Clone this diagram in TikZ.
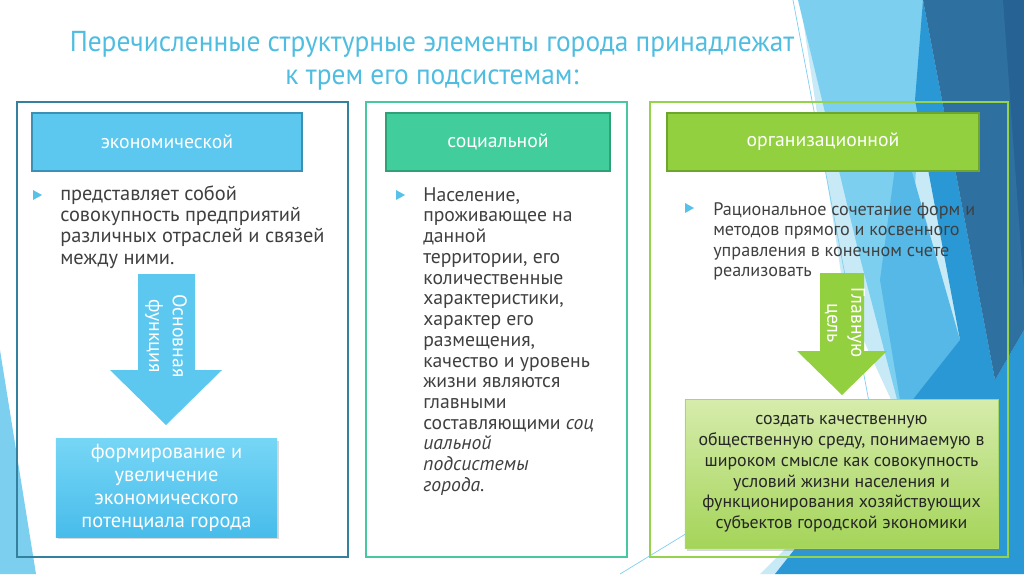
\documentclass[tikz,border=0pt]{standalone}
\usepackage{fontspec}
\setmainfont{PT Sans}
\newfontfamily\titlefont[FakeStretch=0.95]{PT Sans}
\usepackage{tikz}
\usepackage{color}
\usetikzlibrary{shadows}

\definecolor{titleblue}{RGB}{79,189,224}
\definecolor{bodygray}{RGB}{64,64,64}
\definecolor{bulletblue}{RGB}{86,194,234}
\definecolor{econfill}{RGB}{92,200,240}
\definecolor{econline}{RGB}{58,145,180}
\definecolor{econframe}{RGB}{52,128,158}
\definecolor{econtop}{RGB}{118,214,246}
\definecolor{econbot}{RGB}{72,188,234}
\definecolor{socfill}{RGB}{66,206,156}
\definecolor{socline}{RGB}{48,160,118}
\definecolor{socframe}{RGB}{72,200,160}
\definecolor{orgfill}{RGB}{146,208,64}
\definecolor{orgline}{RGB}{110,165,45}
\definecolor{orgframe}{RGB}{150,210,75}
\definecolor{orgtop}{RGB}{214,236,172}
\definecolor{orgbot}{RGB}{164,212,88}
\definecolor{bgpale}{RGB}{200,234,247}
\definecolor{bglight}{RGB}{125,207,240}
\definecolor{bgmid}{RGB}{85,184,230}
\definecolor{bgblue}{RGB}{42,152,212}
\definecolor{bgdark}{RGB}{46,112,160}
\definecolor{bgdarker}{RGB}{38,98,148}

\begin{document}
\begin{tikzpicture}[x=0.025cm,y=-0.025cm,
  frame/.style={draw,line width=1pt,minimum height=11.375cm},
  headbox/.style={draw,line width=0.8pt,minimum height=1.45cm,text=white,font=\fontsize{14}{16}\selectfont},
  bullettext/.style={anchor=north west,inner sep=0pt,align=left,text=bodygray},
  arrowtext/.style={rotate=-90,text=white,align=center,inner sep=0pt,font=\fontsize{14}{17}\selectfont},
  resultbox/.style={align=center,drop shadow={opacity=0.3,shadow xshift=1.5pt,shadow yshift=-1.5pt}}]
\useasboundingbox (0,0) rectangle (1024,574);

% background facets
\fill[bgpale] (800,0)--(1024,0)--(1024,574)--(760,574)--(905,430)--(845,300)--cycle;
\fill[bglight] (798,0)--(923,0)--(905,430)--(858,250)--cycle;
\fill[bgmid] (900,130)--(960,340)--(905,430)--(880,280)--cycle;
\fill[bgblue] (923,0)--(995,380)--(1024,330)--(1024,574)--(775,574)--(960,340)--(915,100)--cycle;
\fill[bgdark] (923,0)--(1024,0)--(1024,330)--(995,380)--cycle;
\fill[bgdarker] (1003,0)--(1024,0)--(1024,290)--cycle;
\draw[bglight,line width=0.5pt] (793,0)--(880,460);
\draw[bglight,line width=0.5pt] (620,574)--(905,400);
\fill[bglight] (0,350)--(36,574)--(0,574)--cycle;

\node[text=titleblue,align=center,font=\titlefont\fontsize{20.5}{23.5}\selectfont] (title) at (432,61)
  {Перечисленные структурные элементы города принадлежат\\к трем его подсистемам:};

\node[frame,draw=econframe,minimum width=8.275cm] (econframe) at (182.5,329.5) {};
\node[frame,draw=socframe,minimum width=6.525cm] (socframe) at (496.5,329.5) {};
\node[frame,draw=orgframe,minimum width=8.95cm] (orgframe) at (829,329.5) {};

\node[headbox,fill=econfill,draw=econline,minimum width=6.75cm] (econ) at (167,142) {экономической};
\node[headbox,fill=socfill,draw=socline,minimum width=5.6cm] (soc) at (498,142) {социальной};
\node[headbox,fill=orgfill,draw=orgline,minimum width=7.8cm] (org) at (823,142) {организационной};

\fill[bulletblue] (33,190)--(42,195)--(33,200)--cycle;
\fill[bulletblue] (396,190)--(405,195)--(396,200)--cycle;
\fill[bulletblue] (685,203)--(694,208)--(685,213)--cycle;

\node[bullettext,font=\fontsize{14.5}{15.2}\selectfont] (econtext) at (60,185)
  {представляет собой\\совокупность предприятий\\различных отраслей и связей\\между ними.};
\node[bullettext,font=\fontsize{14}{14.75}\selectfont] (soctext) at (423,187)
  {Население,\\проживающее на\\данной\\территории, его\\количественные\\характеристики,\\характер его\\размещения,\\качество и уровень\\жизни являются\\главными\\составляющими \textit{соц}\\\textit{иальной}\\\textit{подсистемы}\\\textit{города.}};
\node[bullettext,font=\fontsize{12.9}{14.6}\selectfont] (orgtext) at (713,202)
  {Рациональное сочетание форм и\\методов прямого и косвенного\\управления в конечном счете\\реализовать};

\fill[econfill] (138,274)--(195,274)--(195,370)--(222,370)--(166,425)--(110,370)--(138,370)--cycle;
\fill[orgfill] (820,273)--(864,273)--(864,351)--(887,351)--(842,395)--(797,351)--(820,351)--cycle;
\node[arrowtext] (func) at (166,336) {Основная\\функция};
\node[arrowtext] (goal) at (845,323) {Главную\\цель};

\node[resultbox,top color=econtop,bottom color=econbot,minimum width=5.525cm,minimum height=2.45cm,
  text=white,font=\fontsize{14.5}{16.3}\selectfont] (econres) at (166.5,488)
  {формирование и\\увеличение\\экономического\\потенциала города};
\node[resultbox,draw=orgfill!80,top color=orgtop,bottom color=orgbot,minimum width=7.825cm,minimum height=3.725cm,
  text=black!85,font=\fontsize{12.7}{14.75}\selectfont] (orgres) at (841.5,474)
  {создать качественную\\общественную среду, понимаемую в\\широком смысле как совокупность\\условий жизни населения и\\функционирования хозяйствующих\\субъектов городской экономики};
\end{tikzpicture}
\end{document}
